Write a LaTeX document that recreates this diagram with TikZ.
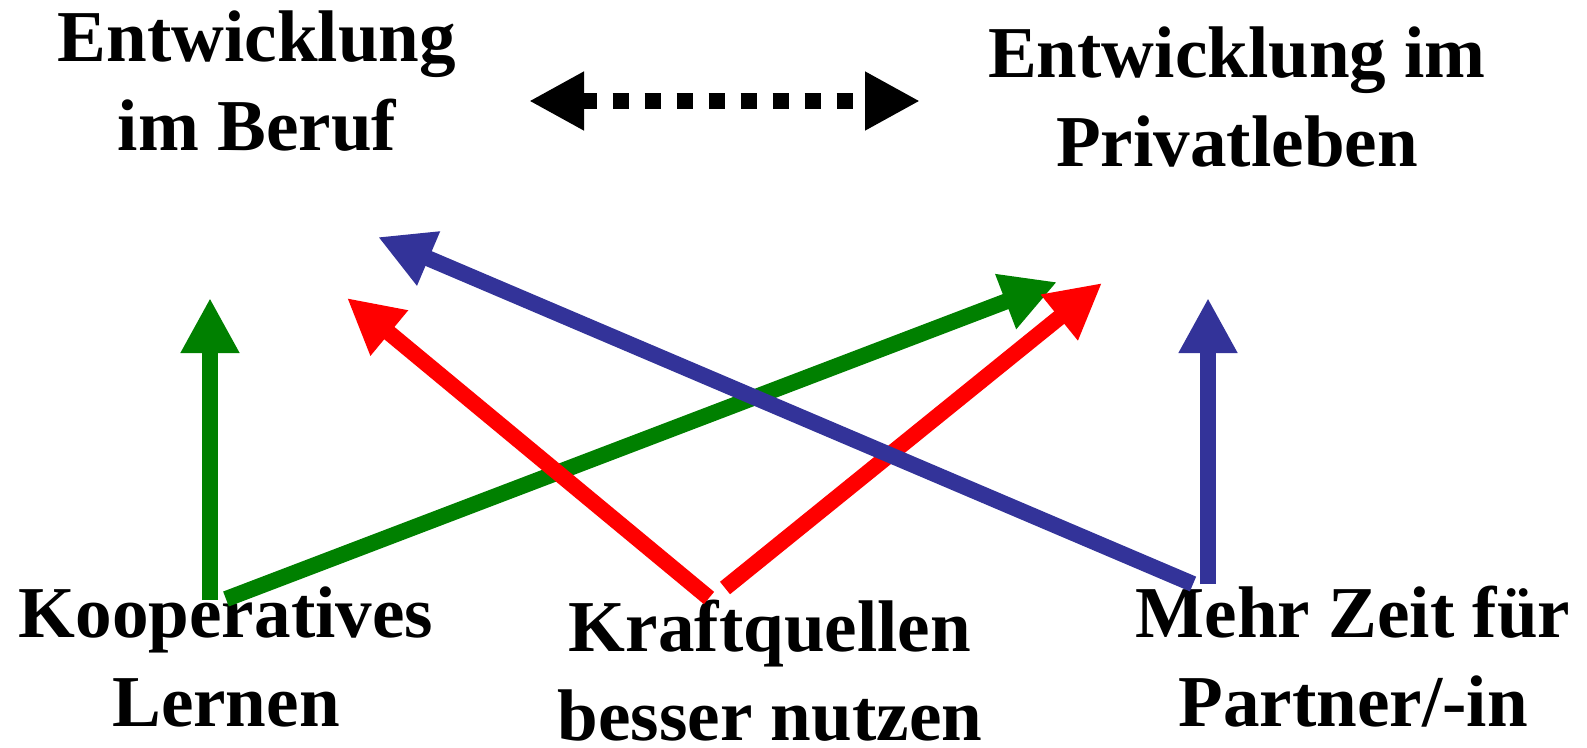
\documentclass[tikz,border=0pt]{standalone}
\usepackage{fontspec}
\setmainfont{Liberation Serif}
\usepackage{tikz}
\usetikzlibrary{arrows.meta}
\definecolor{ppGreen}{HTML}{008000}
\definecolor{ppRed}{HTML}{FF0000}
\definecolor{ppBlue}{HTML}{333399}

\begin{document}
\begin{tikzpicture}[
    x=0.1mm, y=-0.1mm,
    txt/.style={align=center, inner sep=0pt, anchor=base, font=\fontsize{20.8}{25.3}\selectfont\bfseries},
    arrow/.style={-{Triangle[length=5.5mm, width=5.5mm]}, line width=1.6mm},
    dotarrow/.style={{Triangle[length=5.5mm, width=5.5mm]}-{Triangle[length=5.5mm, width=5.5mm]}, line width=1.6mm, dash pattern=on 1.6mm off 1.6mm}
]
    \useasboundingbox (0,0) rectangle (1587,747);

    % Ziele oben
    \node[txt] (beruf) at (257,150) {Entwicklung\\im Beruf};
    \node[txt] (privat) at (1237,166) {Entwicklung im\\Privatleben};

    % Massnahmen unten
    \node[txt] (koop) at (226,726) {Kooperatives\\Lernen};
    \node[txt] (kraft) at (770,740) {Kraftquellen\\besser nutzen};
    \node[txt] (zeit) at (1353,726) {Mehr Zeit für\\Partner/-in};

    % Enden der Pfeile
    \coordinate (dotL) at (529,101);
    \coordinate (dotR) at (920,101);
    \coordinate (koopUp) at (210,600);
    \coordinate (koopDiag) at (226,599);
    \coordinate (kraftL) at (709,598);
    \coordinate (kraftR) at (725,588);
    \coordinate (zeitDiag) at (1193,584);
    \coordinate (zeitUp) at (1208,584);
    \coordinate (beruf1) at (210,298);
    \coordinate (beruf2) at (347,298);
    \coordinate (beruf3) at (378,237);
    \coordinate (privat1) at (1057,282);
    \coordinate (privat2) at (1102,283);
    \coordinate (privat3) at (1208,298);

    \draw[dotarrow] (dotL) -- (dotR);

    \draw[arrow, ppGreen] (koopUp) -- (beruf1);
    \draw[arrow, ppGreen] (koopDiag) -- (privat1);
    \draw[arrow, ppRed] (kraftL) -- (beruf2);
    \draw[arrow, ppRed] (kraftR) -- (privat2);
    \draw[arrow, ppBlue] (zeitDiag) -- (beruf3);
    \draw[arrow, ppBlue] (zeitUp) -- (privat3);
\end{tikzpicture}
\end{document}
